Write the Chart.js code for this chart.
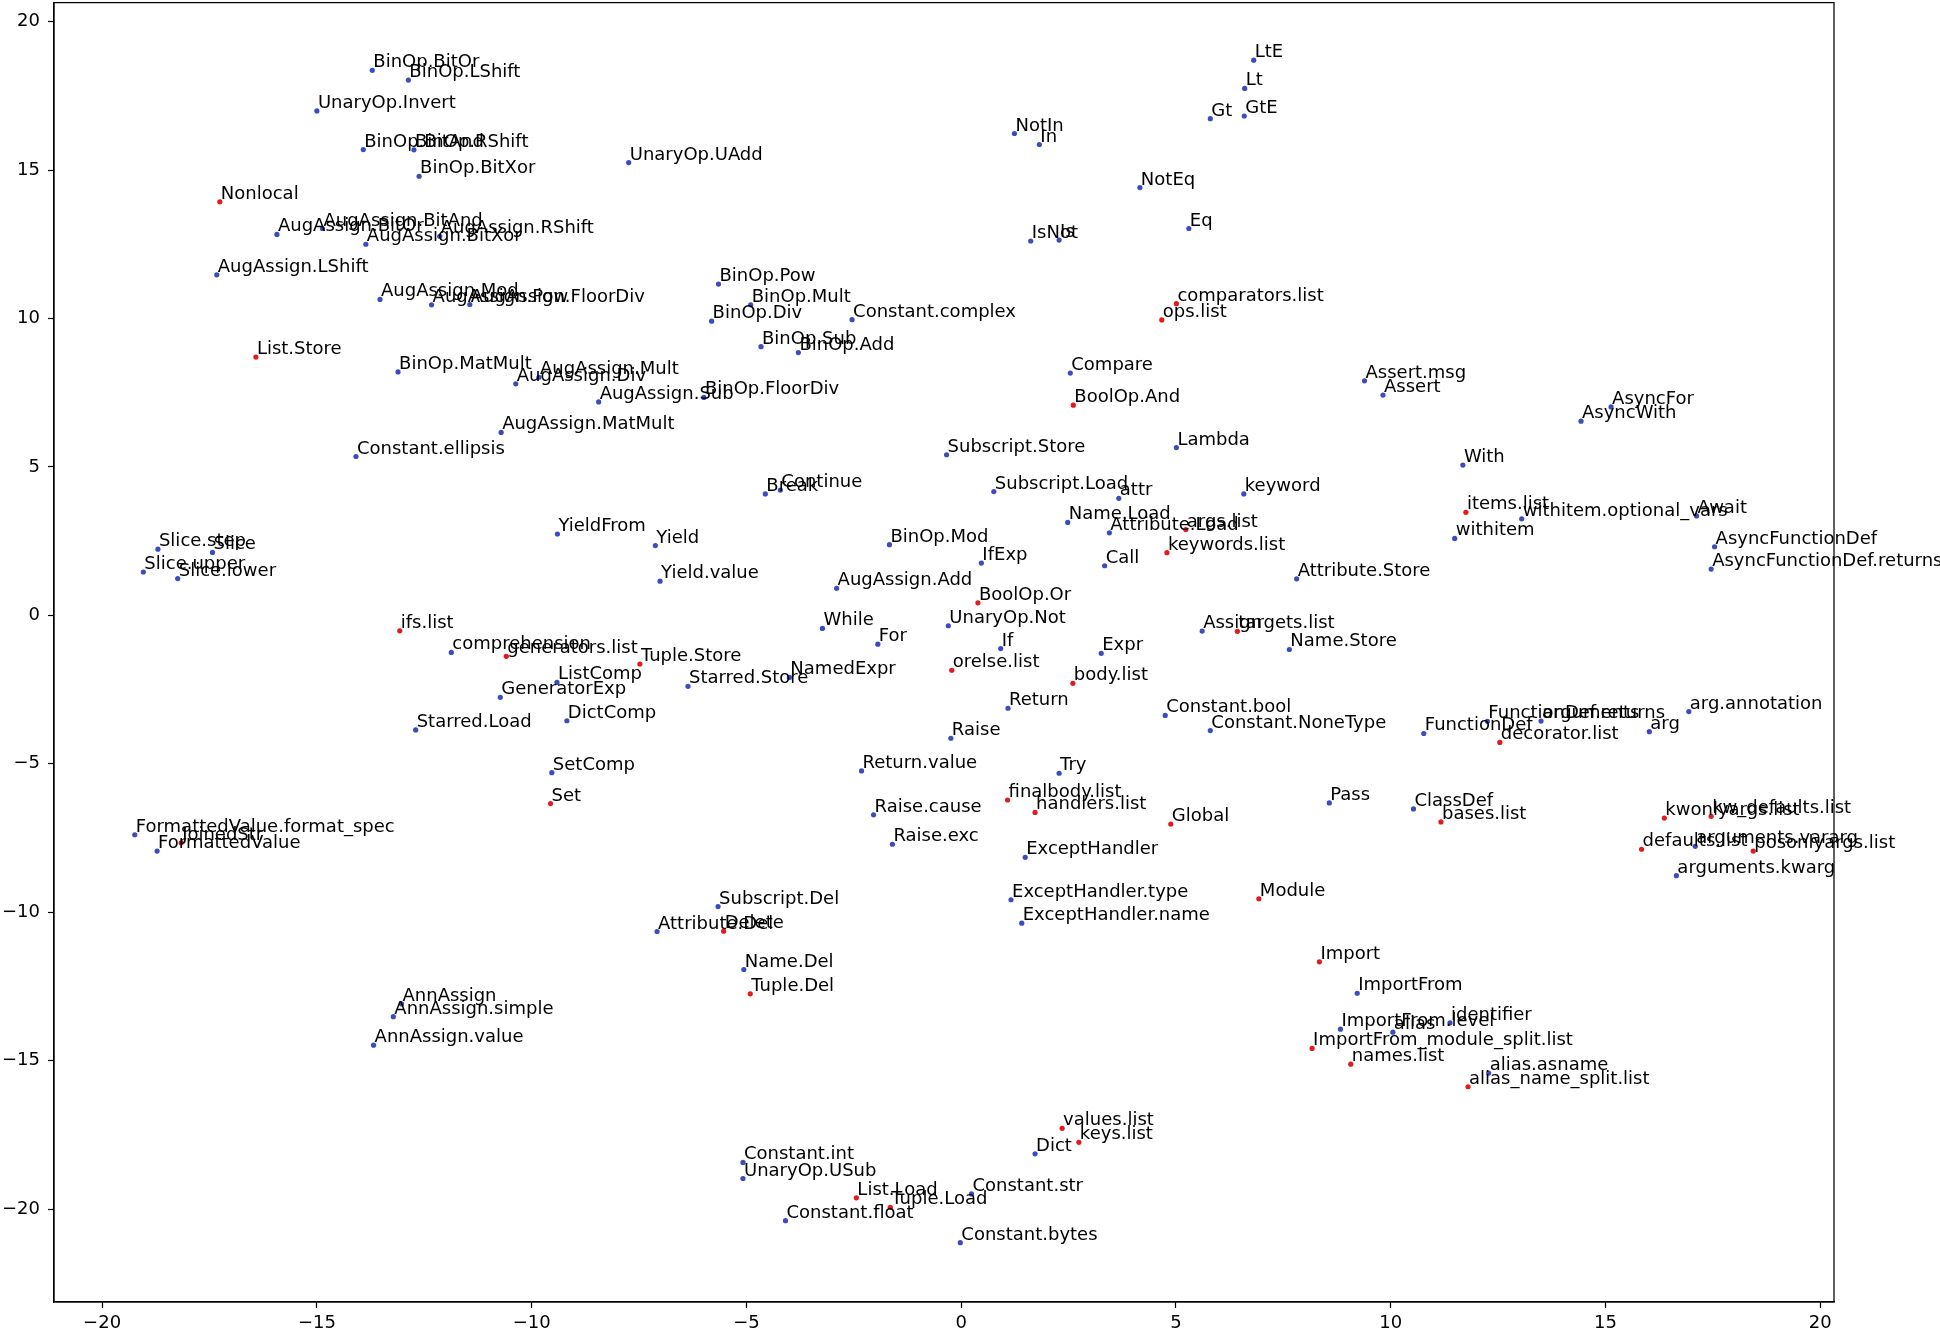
<!DOCTYPE html>
<html>
<head>
<meta charset="utf-8">
<script src="https://cdn.jsdelivr.net/npm/chart.js@4.4.1/dist/chart.umd.min.js"></script>
<style>
  html, body { margin: 0; padding: 0; background: #fff; }
  #wrap { width: 1940px; height: 1331px; }
</style>
</head>
<body>
<div id="wrap"><canvas id="chart" width="1940" height="1331"></canvas></div>
<script>
// node names and their 2-d embedding coordinates
const names = [
  'BinOp.BitOr', 'BinOp.LShift', 'UnaryOp.Invert', 'BinOp.BitAnd', 'BinOp.RShift', 'UnaryOp.UAdd', 'BinOp.BitXor',
  'Nonlocal', 'AugAssign.BitOr', 'AugAssign.BitAnd', 'AugAssign.BitXor', 'AugAssign.RShift', 'AugAssign.LShift',
  'AugAssign.Mod', 'AugAssign.Pow', 'AugAssign.FloorDiv', 'LtE', 'Lt', 'Gt', 'GtE', 'NotIn', 'In', 'NotEq', 'Eq',
  'IsNot', 'Is', 'BinOp.Pow', 'BinOp.Mult', 'BinOp.Div', 'Constant.complex', 'comparators.list', 'ops.list',
  'BinOp.Sub', 'BinOp.Add', 'BinOp.FloorDiv', 'AugAssign.Sub', 'Compare', 'BoolOp.And', 'Subscript.Store', 'Lambda',
  'Break', 'Continue', 'Subscript.Load', 'attr', 'keyword', 'Name.Load', 'Attribute.Load', 'args.list',
  'keywords.list', 'Yield', 'BinOp.Mod', 'IfExp', 'Call', 'Yield.value', 'AugAssign.Add', 'BoolOp.Or', 'While',
  'UnaryOp.Not', 'For', 'If', 'Expr', 'Assign', 'targets.list', 'orelse.list', 'Assert.msg', 'Assert', 'AsyncFor',
  'AsyncWith', 'With', 'items.list', 'withitem.optional_vars', 'Await', 'withitem', 'AsyncFunctionDef',
  'AsyncFunctionDef.returns', 'Attribute.Store', 'Name.Store', 'List.Store', 'BinOp.MatMult', 'AugAssign.Div',
  'AugAssign.Mult', 'AugAssign.MatMult', 'Constant.ellipsis', 'YieldFrom', 'Slice.step', 'Slice', 'Slice.upper',
  'Slice.lower', 'ifs.list', 'comprehension', 'generators.list', 'Tuple.Store', 'ListComp', 'GeneratorExp',
  'DictComp', 'Starred.Load', 'SetComp', 'Set', 'FormattedValue.format_spec', 'JoinedStr', 'FormattedValue',
  'AnnAssign', 'AnnAssign.simple', 'AnnAssign.value', 'Starred.Store', 'NamedExpr', 'body.list', 'Return',
  'Constant.bool', 'Constant.NoneType', 'Raise', 'Return.value', 'Try', 'finalbody.list', 'handlers.list',
  'Raise.cause', 'Global', 'Raise.exc', 'ExceptHandler', 'ExceptHandler.type', 'ExceptHandler.name',
  'Subscript.Del', 'Attribute.Del', 'Delete', 'Name.Del', 'Tuple.Del', 'Module', 'FunctionDef',
  'FunctionDef.returns', 'arguments', 'decorator.list', 'arg', 'arg.annotation', 'Pass', 'ClassDef', 'bases.list',
  'kwonlyargs.list', 'kw_defaults.list', 'defaults.list', 'arguments.vararg', 'posonlyargs.list', 'arguments.kwarg',
  'Import', 'ImportFrom', 'ImportFrom.level', 'alias', 'identifier', 'ImportFrom_module_split.list', 'names.list',
  'alias.asname', 'alias_name_split.list', 'values.list', 'keys.list', 'Dict', 'Constant.int', 'UnaryOp.USub',
  'List.Load', 'Tuple.Load', 'Constant.str', 'Constant.float', 'Constant.bytes'
];

const xs = [
  -13.71, -12.87, -15.00, -13.92, -12.74, -7.74, -12.62,
  -17.26, -15.93, -14.87, -13.86, -12.14, -17.33,
  -13.53, -12.33, -11.44, 6.81, 6.60, 5.80, 6.59, 1.24, 1.82, 4.16, 5.30,
  1.62, 2.28, -5.65, -4.90, -5.81, -2.54, 5.01, 4.67,
  -4.66, -3.79, -5.99, -8.44, 2.54, 2.61, -0.34, 5.01,
  -4.56, -4.21, 0.76, 3.67, 6.58, 2.48, 3.45, 5.23,
  4.79, -7.12, -1.67, 0.47, 3.34, -7.01, -2.90, 0.39, -3.23,
  -0.30, -1.94, 0.92, 3.26, 5.61, 6.43, -0.22, 9.39, 9.82, 15.13,
  14.43, 11.68, 11.75, 13.05, 17.12, 11.49, 17.54,
  17.46, 7.81, 7.64, -16.42, -13.11, -10.37,
  -9.83, -10.71, -14.09, -9.40, -18.70, -17.43, -19.04,
  -18.24, -13.07, -11.87, -10.59, -7.48, -9.41, -10.73,
  -9.18, -12.70, -9.53, -9.56, -19.24, -18.16, -18.72,
  -13.03, -13.22, -13.68, -6.36, -4.00, 2.60, 1.09,
  4.75, 5.80, -0.24, -2.32, 2.28, 1.08, 1.72,
  -2.04, 4.88, -1.60, 1.49, 1.16, 1.41,
  -5.66, -7.08, -5.53, -5.06, -4.91, 6.93, 10.77,
  12.25, 13.50, 12.54, 16.02, 16.94, 8.57, 10.53, 11.17,
  16.37, 17.46, 15.84, 17.09, 18.44, 16.65,
  8.34, 9.22, 8.83, 10.05, 11.38, 8.17, 9.07,
  12.28, 11.80, 2.35, 2.74, 1.72, -5.08, -5.08,
  -2.44, -1.65, 0.24, -4.09, -0.02
];

const ys = [
  18.36, 18.03, 16.99, 15.69, 15.68, 15.25, 14.79,
  13.93, 12.83, 13.03, 12.50, 12.77, 11.47,
  10.64, 10.46, 10.47, 18.70, 17.75, 16.73, 16.82, 16.23, 15.86, 14.41, 13.03,
  12.61, 12.64, 11.16, 10.46, 9.91, 9.96, 10.50, 9.95,
  9.05, 8.85, 7.34, 7.19, 8.16, 7.08, 5.41, 5.65,
  4.09, 4.22, 4.17, 3.94, 4.09, 3.13, 2.78, 2.89,
  2.11, 2.35, 2.38, 1.76, 1.67, 1.15, 0.91, 0.42, -0.44,
  -0.35, -0.97, -1.12, -1.28, -0.53, -0.54, -1.85, 7.90, 7.42, 7.02,
  6.54, 5.06, 3.47, 3.25, 3.35, 2.59, 2.31,
  1.56, 1.23, -1.15, 8.70, 8.20, 7.80,
  8.02, 6.16, 5.35, 2.74, 2.23, 2.12, 1.46,
  1.24, -0.52, -1.25, -1.38, -1.64, -2.26, -2.76,
  -3.55, -3.86, -5.30, -6.34, -7.39, -7.66, -7.94,
  -13.09, -13.52, -14.48, -2.39, -2.09, -2.29, -3.13,
  -3.37, -3.88, -4.14, -5.24, -5.32, -6.22, -6.64,
  -6.72, -7.03, -7.71, -8.15, -9.58, -10.37,
  -9.81, -10.65, -10.64, -11.93, -12.75, -9.55, -3.98,
  -3.57, -3.56, -4.28, -3.92, -3.24, -6.32, -6.52, -6.96,
  -6.83, -6.77, -7.88, -7.78, -7.94, -8.77,
  -11.67, -12.73, -13.94, -14.04, -13.73, -14.59, -15.12,
  -15.42, -15.88, -17.28, -17.75, -18.14, -18.43, -18.97,
  -19.62, -19.94, -19.49, -20.39, -21.13
];

// nodes drawn in red
const redNames = [
  'Nonlocal', 'comparators.list', 'ops.list', 'BoolOp.And', 'args.list', 'keywords.list', 'BoolOp.Or',
  'targets.list', 'orelse.list', 'items.list', 'List.Store', 'ifs.list', 'generators.list', 'Tuple.Store',
  'Set', 'JoinedStr', 'body.list', 'finalbody.list', 'handlers.list', 'Global', 'Delete', 'Tuple.Del',
  'Module', 'decorator.list', 'bases.list', 'kwonlyargs.list', 'kw_defaults.list', 'defaults.list',
  'posonlyargs.list', 'Import', 'ImportFrom_module_split.list', 'names.list', 'alias_name_split.list',
  'values.list', 'keys.list', 'List.Load', 'Tuple.Load'
];

const xTicks = [-20, -15, -10, -5, 0, 5, 10, 15, 20];
const yTicks = [-20, -15, -10, -5, 0, 5, 10, 15, 20];

const BLUE = '#3b4cc0';
const RED = '#e41a1c';

const points = names.map((n, i) => ({ x: xs[i], y: ys[i] }));
const colors = names.map(n => redNames.includes(n) ? RED : BLUE);

const fmt = v => (v < 0 ? '\u2212' + Math.abs(v) : String(v));

// write each node name next to its dot (matplotlib annotate style)
const labelPlugin = {
  id: 'pointLabels',
  afterDatasetsDraw(chart) {
    const ctx = chart.ctx;
    const meta = chart.getDatasetMeta(0);
    ctx.save();
    ctx.font = '18px "DejaVu Sans"';
    ctx.fillStyle = '#000';
    ctx.textAlign = 'left';
    ctx.textBaseline = 'alphabetic';
    meta.data.forEach((p, i) => {
      ctx.fillText(names[i], p.x + 1, p.y - 3);
    });
    ctx.restore();
  }
};

// full box around the plot area
const framePlugin = {
  id: 'frame',
  afterDraw(chart) {
    const { ctx, chartArea: a } = chart;
    ctx.save();
    ctx.strokeStyle = '#000';
    ctx.lineWidth = 1.25;
    ctx.strokeRect(a.left, a.top, a.right - a.left, a.bottom - a.top);
    ctx.restore();
  }
};

const tickFont = { family: 'DejaVu Sans', size: 18 };

new Chart(document.getElementById('chart'), {
  type: 'scatter',
  data: {
    datasets: [{
      data: points,
      backgroundColor: colors,
      borderWidth: 0,
      pointRadius: 2.6,
      pointHoverRadius: 2.6
    }]
  },
  options: {
    responsive: false,
    devicePixelRatio: 1,
    animation: false,
    layout: { padding: { left: 0, right: 106, top: 2, bottom: 0 } },
    plugins: { legend: { display: false }, tooltip: { enabled: false } },
    scales: {
      x: {
        type: 'linear',
        min: -21.12,
        max: 20.32,
        afterFit(s) { s.height = 29; s.paddingLeft = 0; s.paddingRight = 0; },
        afterBuildTicks(s) { s.ticks = xTicks.map(v => ({ value: v })); },
        grid: { drawOnChartArea: false, tickLength: 6, color: '#000', tickWidth: 1.2 },
        border: { color: '#000', width: 1.25 },
        ticks: { color: '#000', font: tickFont, padding: 5, maxRotation: 0, autoSkip: false, callback: fmt }
      },
      y: {
        type: 'linear',
        min: -23.13,
        max: 20.64,
        afterFit(s) { s.width = 54; s.paddingTop = 0; s.paddingBottom = 0; },
        afterBuildTicks(s) { s.ticks = yTicks.map(v => ({ value: v })); },
        grid: { drawOnChartArea: false, tickLength: 6, color: '#000', tickWidth: 1.2 },
        border: { color: '#000', width: 1.25 },
        ticks: { color: '#000', font: tickFont, padding: 8, autoSkip: false, callback: fmt }
      }
    }
  },
  plugins: [labelPlugin, framePlugin]
});
</script>
</body>
</html>
